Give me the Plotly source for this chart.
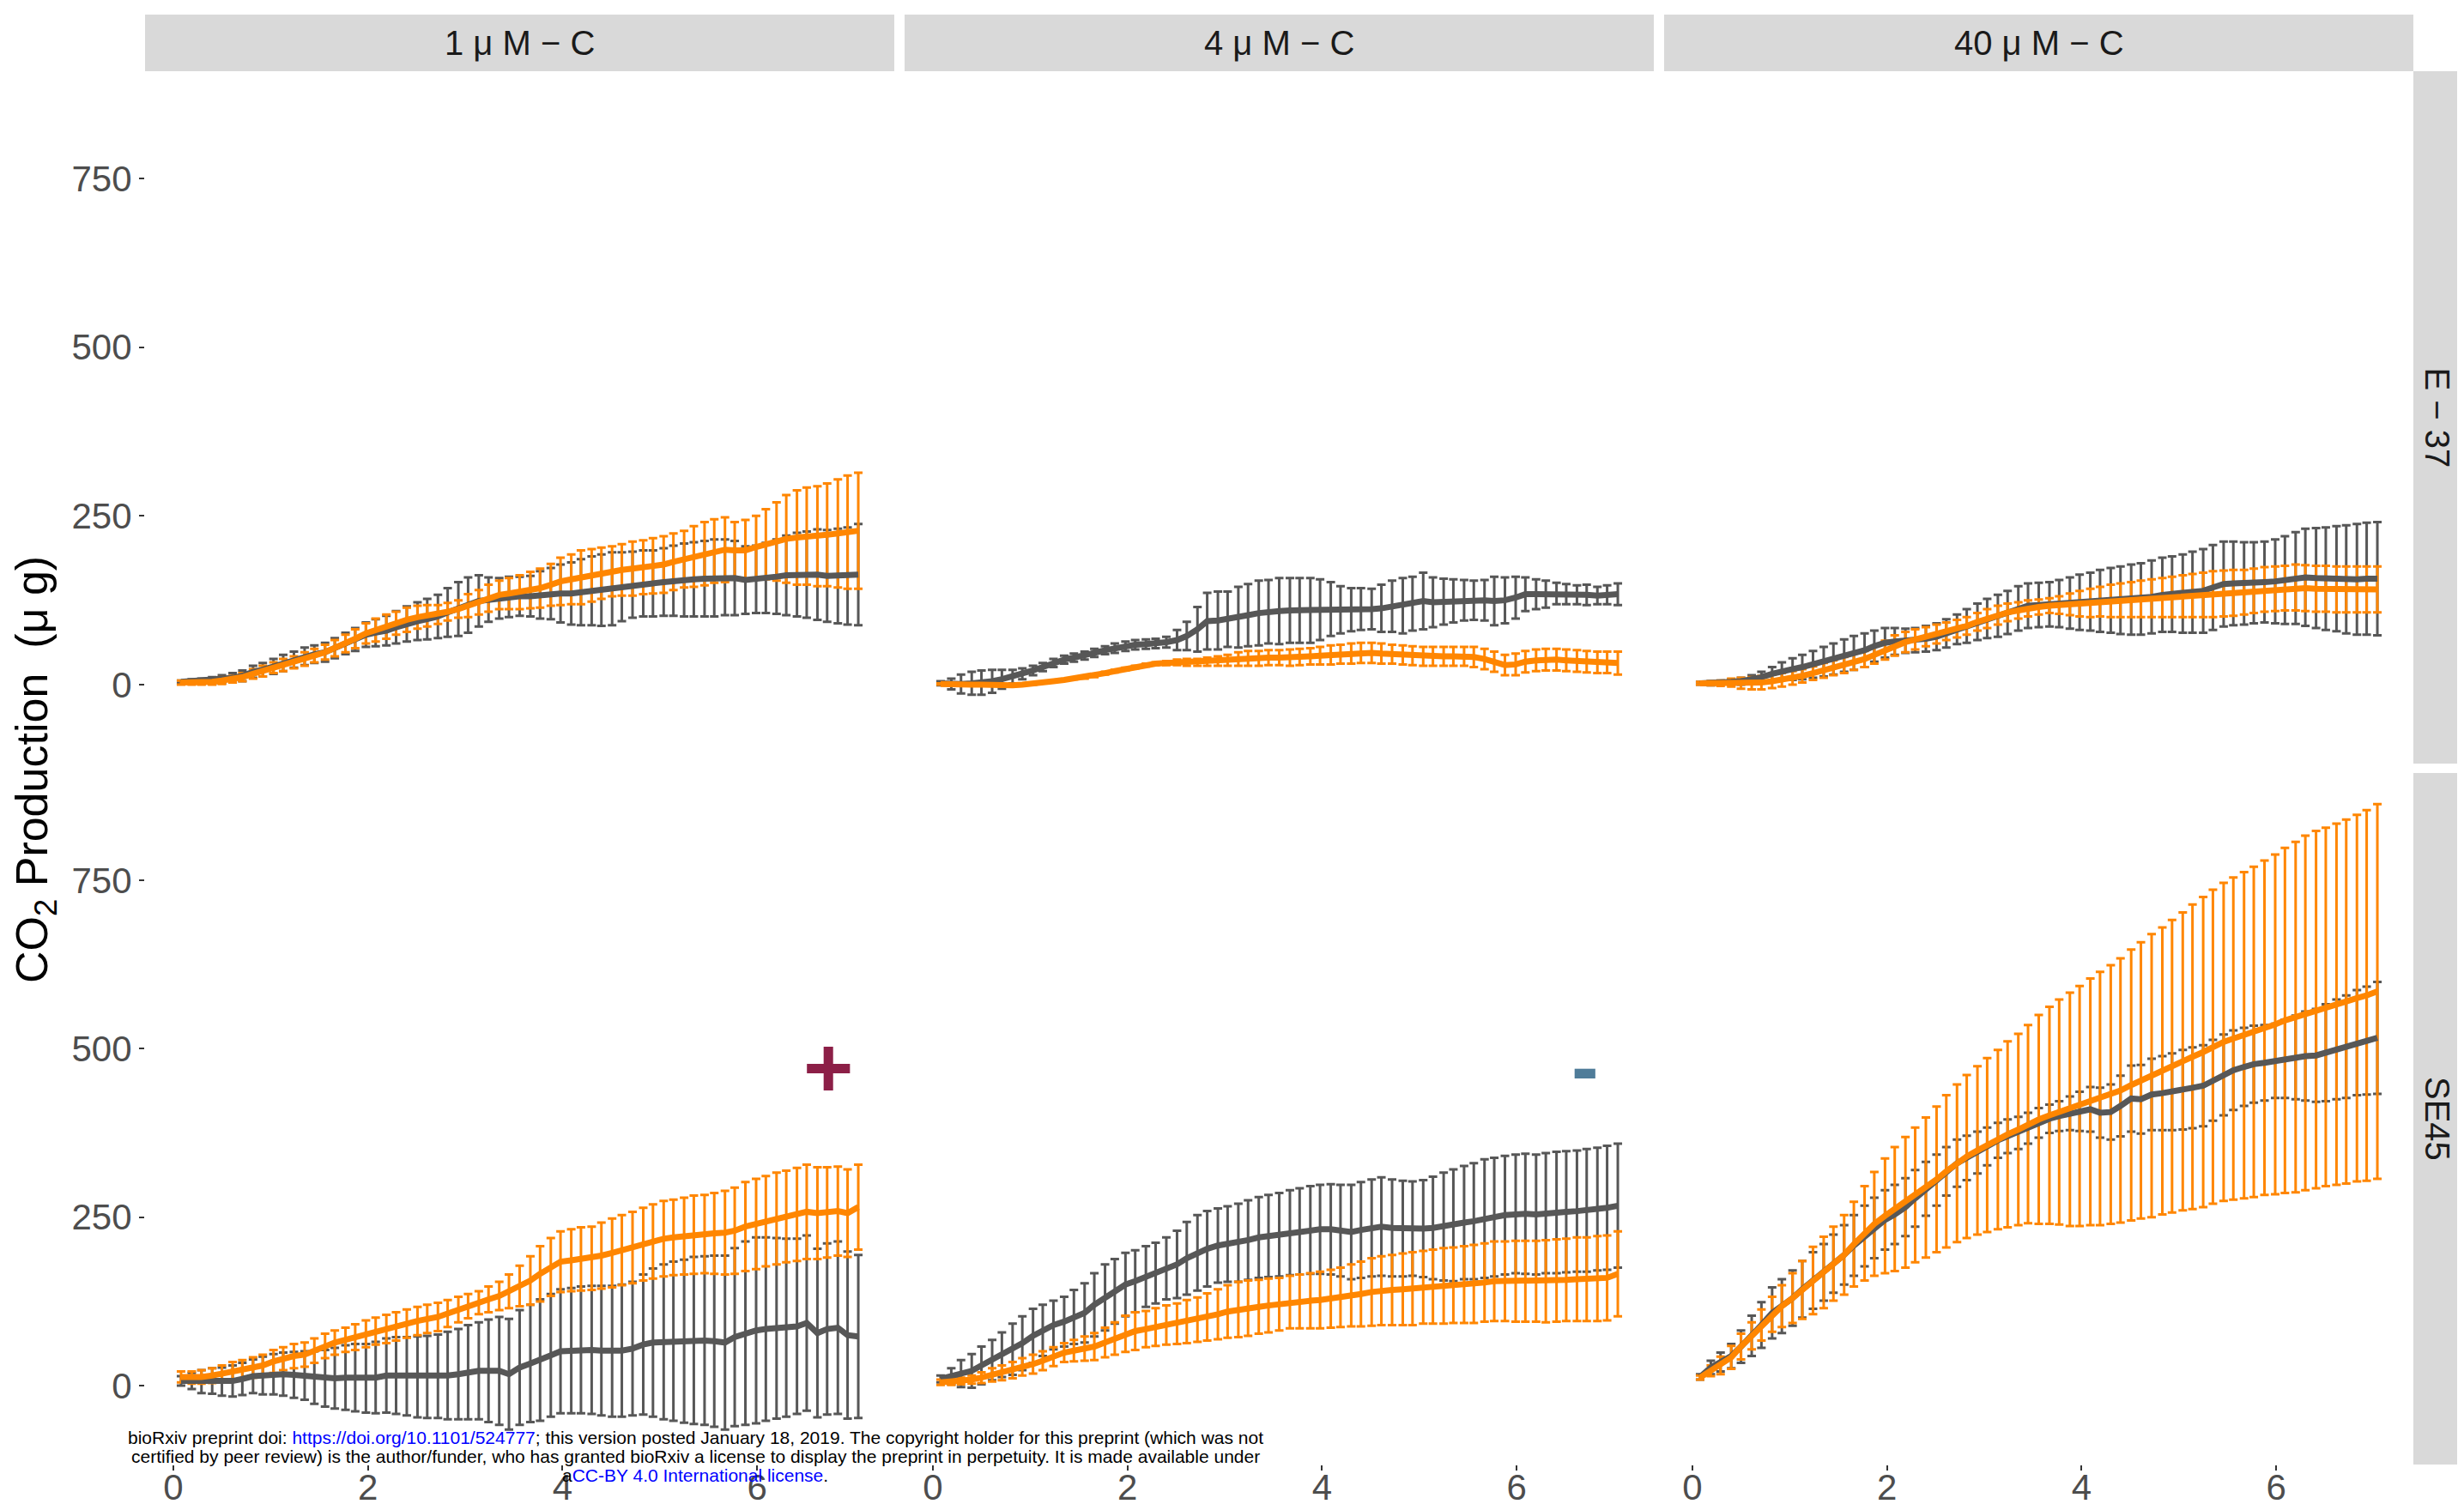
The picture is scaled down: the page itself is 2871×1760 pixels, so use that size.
import plotly.graph_objects as go

# ---------------- data ----------------
TIME_D = [0.08, 0.19, 0.29, 0.40, 0.50, 0.61, 0.71, 0.82, 0.92, 1.03,
          1.13, 1.24, 1.35, 1.45, 1.56, 1.66, 1.77, 1.87, 1.98, 2.08,
          2.19, 2.29, 2.40, 2.51, 2.61, 2.72, 2.82, 2.93, 3.03, 3.14,
          3.24, 3.35, 3.45, 3.56, 3.67, 3.77, 3.88, 3.98, 4.09, 4.19,
          4.30, 4.40, 4.51, 4.61, 4.72, 4.83, 4.93, 5.04, 5.14, 5.25,
          5.35, 5.46, 5.56, 5.67, 5.77, 5.88, 5.99, 6.09, 6.20, 6.30,
          6.41, 6.51, 6.62, 6.72, 6.83, 6.93, 7.04]

CONC_LABELS = ["1 \u03bc M \u2212 C", "4 \u03bc M \u2212 C", "40 \u03bc M \u2212 C"]
STRAIN_LABELS = ["E \u2212 37", "SE45"]
X_TICKS = [0, 2, 4, 6]
Y_TICKS = [0, 250, 500, 750]

# E-37, 1 uM
GREY_E37_1 = [4, 5, 5, 6, 8, 10, 13, 19, 22, 27,
              32, 37, 42, 45, 48, 54, 61, 67, 74, 77,
              80, 85, 90, 94, 97, 101, 107, 112, 118, 124,
              126, 128, 130, 131, 131, 133, 135, 135, 135, 137,
              139, 140, 142, 145, 148, 150, 150, 152, 154, 155,
              156, 157, 158, 159, 158, 155, 156, 158, 160, 162,
              163, 163, 163, 161, 161, 161, 163]
GREY_E37_1_SD = [2, 3, 4, 5, 6, 7, 8, 9, 10, 11,
                 12, 12, 13, 13, 14, 15, 16, 17, 18, 20,
                 22, 24, 26, 28, 30, 32, 36, 40, 41, 38,
                 33, 30, 30, 29, 30, 35, 38, 43, 46, 49,
                 51, 53, 54, 51, 49, 49, 49, 50, 52, 54,
                 55, 56, 57, 56, 55, 50, 50, 52, 55, 59,
                 62, 64, 67, 68, 70, 72, 75]
ORNG_E37_1 = [3, 3, 4, 4, 6, 8, 11, 16, 20, 25,
              29, 33, 38, 43, 48, 54, 61, 68, 76, 81,
              86, 91, 96, 100, 102, 104, 108, 112, 117, 122,
              128, 133, 135, 137, 140, 143, 148, 153, 156, 159,
              162, 165, 168, 170, 172, 174, 176, 178, 182, 186,
              190, 194, 198, 200, 199, 199, 204, 208, 212, 216,
              218, 220, 220, 222, 224, 226, 228]
ORNG_E37_1_SD = [3, 3, 4, 4, 5, 5, 6, 7, 8, 8,
                 9, 9, 10, 10, 11, 12, 13, 14, 15, 17,
                 18, 17, 18, 17, 16, 14, 13, 13, 17, 18,
                 20, 21, 23, 25, 27, 29, 31, 35, 37, 40,
                 39, 38, 37, 38, 40, 40, 41, 42, 42, 42,
                 45, 47, 47, 48, 42, 45, 46, 52, 58, 65,
                 70, 72, 74, 76, 80, 84, 86]

# E-37, 4 uM
GREY_E37_4 = [2, 1, 1, 2, 3, 5, 8, 12, 16, 21,
              26, 32, 37, 40, 43, 47, 51, 54, 57, 59,
              60, 61, 63, 66, 72, 82, 94, 95, 97, 100,
              103, 106, 108, 109, 110, 110, 110, 111, 112, 111,
              111, 112, 112, 113, 116, 117, 120, 124, 122, 123,
              124, 125, 125, 125, 124, 125, 129, 134, 134, 134,
              135, 134, 133, 133, 132, 133, 134]
GREY_E37_4_SD = [3, 8, 14, 17, 18, 17, 14, 10, 8, 7,
                 6, 6, 6, 6, 6, 6, 6, 7, 7, 7,
                 7, 7, 8, 15, 21, 33, 42, 43, 41, 45,
                 46, 48, 47, 49, 48, 48, 48, 45, 40, 35,
                 32, 31, 30, 35, 38, 41, 40, 42, 37, 34,
                 32, 30, 29, 30, 36, 34, 31, 25, 22, 20,
                 16, 15, 14, 15, 13, 14, 16]
ORNG_E37_4 = [1, 0, 0, 0, 0, -1, -1, -1, 0, 1,
              3, 5, 7, 9, 11, 13, 17, 20, 23, 26,
              29, 31, 32, 33, 33, 33, 34, 35, 36, 38,
              39, 39, 40, 40, 40, 41, 42, 43, 44, 45,
              46, 47, 47, 46, 45, 44, 43, 42, 42, 42,
              42, 42, 41, 38, 34, 29, 30, 34, 36, 37,
              37, 36, 35, 34, 33, 33, 32]
ORNG_E37_4_SD = [1, 1, 1, 1, 1, 1, 1, 1, 1, 1,
                 1, 1, 1, 1, 2, 2, 2, 2, 2, 2,
                 2, 2, 3, 4, 5, 5, 6, 7, 8, 10,
                 11, 11, 11, 11, 12, 12, 12, 13, 14, 14,
                 15, 15, 15, 15, 14, 14, 14, 14, 14, 14,
                 14, 14, 15, 15, 15, 15, 16, 16, 16, 16,
                 16, 16, 16, 16, 16, 16, 17]

# E-37, 40 uM
GREY_E37_40 = [2, 2, 3, 4, 5, 8, 11, 16, 20, 23,
               26, 30, 34, 38, 43, 47, 51, 57, 62, 64,
               65, 66, 68, 71, 76, 82, 87, 93, 98, 102,
               107, 113, 117, 118, 119, 120, 121, 122, 123, 124,
               125, 125, 126, 127, 130, 133, 134, 135, 137, 139,
               144, 149, 150, 150, 151, 152, 153, 155, 158, 159,
               158, 157, 157, 156, 156, 157, 157]
GREY_E37_40_SD = [2, 3, 3, 4, 5, 6, 8, 10, 13, 16,
                  18, 20, 22, 23, 24, 25, 25, 23, 22, 20,
                  18, 18, 19, 20, 21, 22, 25, 27, 29, 31,
                  32, 33, 33, 33, 33, 35, 38, 41, 43, 46,
                  48, 50, 52, 53, 54, 55, 56, 58, 60, 62,
                  63, 63, 62, 61, 60, 60, 62, 65, 68, 72,
                  74, 76, 78, 80, 82, 83, 84]
ORNG_E37_40 = [2, 2, 2, 3, 2, 2, 3, 5, 7, 10,
               13, 17, 21, 25, 29, 34, 38, 44, 51, 58,
               63, 67, 71, 75, 79, 83, 87, 93, 98, 103,
               107, 110, 113, 115, 117, 118, 119, 120, 121, 123,
               124, 125, 126, 127, 128, 129, 130, 131, 132, 133,
               134, 135, 136, 137, 139, 141, 142, 143, 144, 143,
               142, 142, 141, 141, 141, 141, 141]
ORNG_E37_40_SD = [2, 3, 4, 6, 8, 9, 10, 10, 10, 10,
                  10, 10, 11, 11, 12, 12, 12, 13, 14, 15,
                  15, 15, 14, 14, 13, 13, 13, 13, 14, 14,
                  13, 12, 12, 11, 11, 13, 16, 19, 21, 22,
                  24, 25, 26, 27, 28, 29, 30, 31, 32, 33,
                  34, 34, 34, 33, 33, 33, 33, 33, 34, 34,
                  34, 34, 34, 34, 34, 34, 34]

# SE45, 1 uM
GREY_SE45_1 = [7, 7, 6, 7, 6, 7, 10, 14, 15, 17,
               17, 16, 15, 12, 11, 11, 12, 12, 11, 12,
               15, 15, 14, 13, 13, 14, 15, 17, 20, 22,
               22, 22, 17, 27, 33, 38, 45, 51, 52, 53,
               53, 52, 51, 52, 55, 61, 64, 65, 66, 66,
               67, 67, 66, 64, 72, 78, 82, 84, 85, 86,
               88, 93, 78, 84, 86, 75, 73]
GREY_SE45_1_SD = [7, 12, 17, 19, 21, 23, 24, 25, 28, 30,
                  32, 34, 36, 39, 42, 45, 48, 50, 51, 53,
                  55, 57, 58, 60, 61, 62, 65, 67, 70, 72,
                  76, 80, 82, 85, 87, 90, 91, 92, 93, 94,
                  95, 96, 97, 98, 99, 104, 110, 115, 118, 121,
                  124, 125, 127, 129, 132, 136, 138, 136, 134, 132,
                  130, 130, 125, 127, 128, 124, 121]
ORNG_SE45_1 = [13, 12, 13, 15, 18, 22, 24, 27, 30, 36,
               40, 44, 46, 52, 59, 64, 68, 72, 77, 81,
               84, 88, 92, 96, 99, 102, 107, 113, 118, 123,
               128, 133, 140, 148, 156, 166, 176, 184, 186, 188,
               189, 193, 197, 201, 205, 210, 214, 218, 220, 222,
               224, 225, 226, 227, 230, 236, 240, 244, 248, 251,
               254, 258, 256, 257, 259, 256, 265]
ORNG_SE45_1_SD = [8, 9, 10, 11, 12, 13, 14, 15, 16, 17,
                  17, 18, 18, 18, 18, 18, 18, 19, 20, 20,
                  21, 21, 21, 21, 21, 21, 20, 19, 18, 17,
                  19, 21, 25, 30, 36, 41, 43, 45, 46, 47,
                  47, 49, 51, 52, 53, 54, 55, 56, 56, 57,
                  58, 58, 60, 62, 64, 66, 67, 67, 68, 68,
                  69, 70, 68, 67, 66, 65, 63]

# SE45, 4 uM
GREY_SE45_4 = [10, 14, 18, 22, 30, 38, 46, 54, 63, 74,
               82, 90, 95, 102, 108, 120, 131, 140, 150, 155,
               162, 167, 174, 180, 189, 197, 203, 208, 210, 212,
               216, 220, 222, 224, 227, 229, 231, 232, 232, 230,
               228, 231, 234, 236, 234, 233, 233, 233, 234, 236,
               238, 242, 244, 248, 250, 253, 255, 255, 254, 256,
               257, 258, 259, 260, 262, 264, 267]
GREY_SE45_4_SD = [5, 12, 20, 25, 28, 30, 33, 38, 40, 40,
                  38, 36, 37, 40, 44, 47, 49, 48, 47, 46,
                  45, 45, 46, 50, 54, 56, 56, 55, 56, 58,
                  59, 60, 61, 62, 63, 64, 65, 66, 67, 68,
                  70, 71, 72, 73, 72, 71, 70, 72, 76, 80,
                  83, 84, 86, 88, 88, 88, 88, 89, 89, 89,
                  90, 90, 90, 91, 91, 92, 92]
ORNG_SE45_4 = [5, 6, 7, 9, 12, 16, 19, 23, 28, 32,
               37, 43, 49, 52, 55, 58, 64, 70, 77, 81,
               84, 87, 90, 92, 95, 98, 102, 106, 110, 113,
               115, 117, 119, 121, 124, 125, 126, 127, 129, 131,
               134, 136, 139, 141, 142, 143, 144, 146, 147, 148,
               149, 150, 151, 153, 155, 155, 155, 155, 155, 155,
               156, 157, 158, 158, 159, 160, 166]
ORNG_SE45_4_SD = [4, 5, 5, 6, 8, 10, 11, 12, 13, 14,
                  14, 14, 14, 16, 18, 20, 22, 24, 27, 28,
                  27, 28, 29, 30, 32, 33, 35, 37, 39, 41,
                  41, 40, 40, 39, 39, 40, 41, 42, 43, 44,
                  46, 48, 50, 51, 52, 53, 54, 54, 55, 56,
                  56, 57, 58, 58, 59, 59, 60, 60, 60, 61,
                  61, 61, 62, 62, 63, 63, 63]

# SE45, 40 uM
GREY_SE45_40 = [13, 27, 35, 44, 58, 74, 90, 108, 118, 130,
                143, 156, 168, 181, 194, 208, 222, 234, 246, 254,
                265, 278, 292, 305, 318, 330, 338, 346, 355, 364,
                370, 375, 382, 390, 396, 400, 404, 407, 410, 405,
                406, 415, 426, 425, 432, 434, 436, 439, 442, 445,
                453, 461, 468, 473, 477, 479, 482, 485, 487, 489,
                490, 494, 499, 503, 509, 512, 516]
GREY_SE45_40_SD = [4, 10, 14, 18, 24, 30, 34, 38, 40, 41,
                   42, 42, 42, 43, 44, 45, 45, 45, 44, 44,
                   43, 42, 40, 38, 36, 35, 33, 31, 28, 26,
                   25, 24, 23, 22, 21, 22, 25, 29, 33, 37,
                   41, 45, 49, 51, 53, 55, 57, 59, 60, 60,
                   60, 60, 59, 58, 57, 56, 55, 58, 62, 66,
                   69, 72, 74, 76, 78, 80, 83]
ORNG_SE45_40 = [12, 22, 30, 42, 58, 74, 90, 106, 118, 130,
                142, 156, 168, 181, 194, 210, 226, 240, 252, 262,
                272, 283, 294, 306, 318, 330, 340, 349, 357, 365,
                373, 380, 388, 395, 401, 406, 410, 415, 421, 426,
                432, 438, 446, 453, 460, 467, 474, 481, 488, 495,
                503, 510, 515, 520, 525, 531, 536, 542, 547, 553,
                558, 562, 566, 570, 575, 579, 585]
ORNG_SE45_40_SD = [3, 8, 13, 17, 19, 20, 23, 26, 31, 37,
                   43, 50, 53, 55, 59, 63, 70, 77, 85, 92,
                   97, 100, 104, 108, 113, 117, 121, 125, 129, 133,
                   138, 142, 147, 155, 161, 167, 173, 178, 183, 188,
                   192, 196, 201, 205, 210, 213, 217, 221, 226, 230,
                   233, 236, 239, 242, 245, 248, 252, 256, 260, 263,
                   265, 266, 268, 270, 272, 275, 278]

PANELS = [  # (row, col, grey mean, grey sd, orange mean, orange sd)
    (0, 0, GREY_E37_1, GREY_E37_1_SD, ORNG_E37_1, ORNG_E37_1_SD),
    (0, 1, GREY_E37_4, GREY_E37_4_SD, ORNG_E37_4, ORNG_E37_4_SD),
    (0, 2, GREY_E37_40, GREY_E37_40_SD, ORNG_E37_40, ORNG_E37_40_SD),
    (1, 0, GREY_SE45_1, GREY_SE45_1_SD, ORNG_SE45_1, ORNG_SE45_1_SD),
    (1, 1, GREY_SE45_4, GREY_SE45_4_SD, ORNG_SE45_4, ORNG_SE45_4_SD),
    (1, 2, GREY_SE45_40, GREY_SE45_40_SD, ORNG_SE45_40, ORNG_SE45_40_SD),
]

# ---------------- styling / layout ----------------
OFF = 8                      # default page margin of the html body
W, H = 2871 - OFF, 1760 - OFF


def px_x(px):
    return (px - OFF) / W


def px_y(py):
    return 1 - (py - OFF) / H


COL_PX = [(169, 1042), (1054, 1927), (1939, 2812)]
ROW_PX = [(83, 890), (901, 1707)]
TOP_STRIP_PX = (17, 83)
RIGHT_STRIP_PX = (2812, 2868)
X_RANGE = [-0.29, 7.41]
Y_RANGE = [-117, 909]
GREY = "#575757"
ORANGE = "#FF8600"
STRIP_BG = "#D9D9D9"
FONT = "Liberation Sans, Arial, sans-serif"

fig = go.Figure()
layout = {}

for (r, c, gm, gs, om, osd) in PANELS:
    k = r * 3 + c + 1
    xs = "x" if k == 1 else f"x{k}"
    ys = "y" if k == 1 else f"y{k}"
    xa = "xaxis" if k == 1 else f"xaxis{k}"
    ya = "yaxis" if k == 1 else f"yaxis{k}"
    x0, x1 = COL_PX[c]
    y0, y1 = ROW_PX[r]
    layout[xa] = dict(domain=[px_x(x0), px_x(x1)], range=X_RANGE, anchor=ys,
                      automargin=False, ticklabelstandoff=-16,
                      showgrid=False, zeroline=False, showline=False,
                      tickvals=X_TICKS, ticktext=[str(v) for v in X_TICKS],
                      ticks="outside" if r == 1 else "", ticklen=6, tickwidth=2,
                      tickcolor="#333333", showticklabels=(r == 1),
                      tickfont=dict(family=FONT, size=42, color="#4D4D4D"))
    layout[ya] = dict(domain=[px_y(y1), px_y(y0)], range=Y_RANGE, anchor=xs,
                      automargin=False,
                      showgrid=False, zeroline=False, showline=False,
                      tickvals=Y_TICKS, ticktext=[str(v) for v in Y_TICKS],
                      ticks="outside" if c == 0 else "", ticklen=6, tickwidth=2,
                      tickcolor="#333333", showticklabels=(c == 0),
                      tickfont=dict(family=FONT, size=42, color="#4D4D4D"))

    # error bars first (grey then orange), then lines (grey then orange)
    for mean, sd, col in ((gm, gs, GREY), (om, osd, ORANGE)):
        fig.add_trace(go.Scatter(
            x=TIME_D, y=mean, xaxis=xs, yaxis=ys, mode="markers",
            marker=dict(size=1, color="rgba(0,0,0,0)"),
            error_y=dict(type="data", array=sd, symmetric=True, color=col,
                         thickness=3, width=5),
            hoverinfo="skip", showlegend=False))
    for mean, col in ((gm, GREY), (om, ORANGE)):
        fig.add_trace(go.Scatter(
            x=TIME_D, y=mean, xaxis=xs, yaxis=ys, mode="lines",
            line=dict(color=col, width=7), hoverinfo="skip", showlegend=False))

shapes = []
annotations = []
# top strips
for c, lab in enumerate(CONC_LABELS):
    x0, x1 = COL_PX[c]
    shapes.append(dict(type="rect", xref="paper", yref="paper",
                       x0=px_x(x0), x1=px_x(x1),
                       y0=px_y(TOP_STRIP_PX[1]), y1=px_y(TOP_STRIP_PX[0]),
                       fillcolor=STRIP_BG, line=dict(width=0), layer="below"))
    annotations.append(dict(xref="paper", yref="paper", x=px_x((x0 + x1) / 2),
                            y=px_y((TOP_STRIP_PX[0] + TOP_STRIP_PX[1]) / 2),
                            text=lab, showarrow=False, xanchor="center", yanchor="middle",
                            font=dict(family=FONT, size=40, color="#1A1A1A")))
# right strips
for r, lab in enumerate(STRAIN_LABELS):
    y0, y1 = ROW_PX[r]
    shapes.append(dict(type="rect", xref="paper", yref="paper",
                       x0=px_x(RIGHT_STRIP_PX[0]), x1=px_x(RIGHT_STRIP_PX[1]),
                       y0=px_y(y1), y1=px_y(y0),
                       fillcolor=STRIP_BG, line=dict(width=0), layer="below"))
    annotations.append(dict(xref="paper", yref="paper",
                            x=px_x((RIGHT_STRIP_PX[0] + RIGHT_STRIP_PX[1]) / 2),
                            y=px_y((y0 + y1) / 2), text=lab, textangle=90,
                            showarrow=False, xanchor="center", yanchor="middle",
                            font=dict(family=FONT, size=40, color="#1A1A1A")))

# y-axis title
annotations.append(dict(xref="paper", yref="paper", x=px_x(41), y=px_y(897),
                        text="CO<sub>2</sub> Production\u00a0\u00a0(\u03bc g)",
                        textangle=-90, showarrow=False, xanchor="center", yanchor="middle",
                        font=dict(family=FONT, size=52, color="#000000")))

# significance markers
annotations.append(dict(xref="x4", yref="y4", x=6.73, y=473, text="<b>+</b>",
                        showarrow=False, xanchor="center", yanchor="middle",
                        font=dict(family=FONT, size=100, color="#8C1F47")))
annotations.append(dict(xref="x5", yref="y5", x=6.70, y=474, text="<b>-</b>",
                        showarrow=False, xanchor="center", yanchor="middle",
                        font=dict(family=FONT, size=95, color="#4F7C99")))

# preprint footer, one annotation per line
FOOTER_LINES = [
    'bioRxiv preprint doi: <span style="color:#0000FF">https://doi.org/10.1101/524777</span>; '
    'this version posted January 18, 2019. The copyright holder for this preprint (which was not',
    'certified by peer review) is the author/funder, who has granted bioRxiv a license to display '
    'the preprint in perpetuity. It is made available under',
    'a<span style="color:#0000FF">CC-BY 4.0 International license</span>.',
]
FOOTER_Y = [1675, 1697, 1719]
for line, fy in zip(FOOTER_LINES, FOOTER_Y):
    annotations.append(dict(xref="paper", yref="paper", x=px_x(810), y=px_y(fy),
                            text=line, showarrow=False, xanchor="center", yanchor="middle",
                            font=dict(family=FONT, size=21, color="#000000")))

fig.update_layout(width=W, height=H, margin=dict(l=0, r=0, t=0, b=0, autoexpand=False),
                  paper_bgcolor="white", plot_bgcolor="white", showlegend=False,
                  shapes=shapes, annotations=annotations, **layout)

fig.write_html("out.html")
